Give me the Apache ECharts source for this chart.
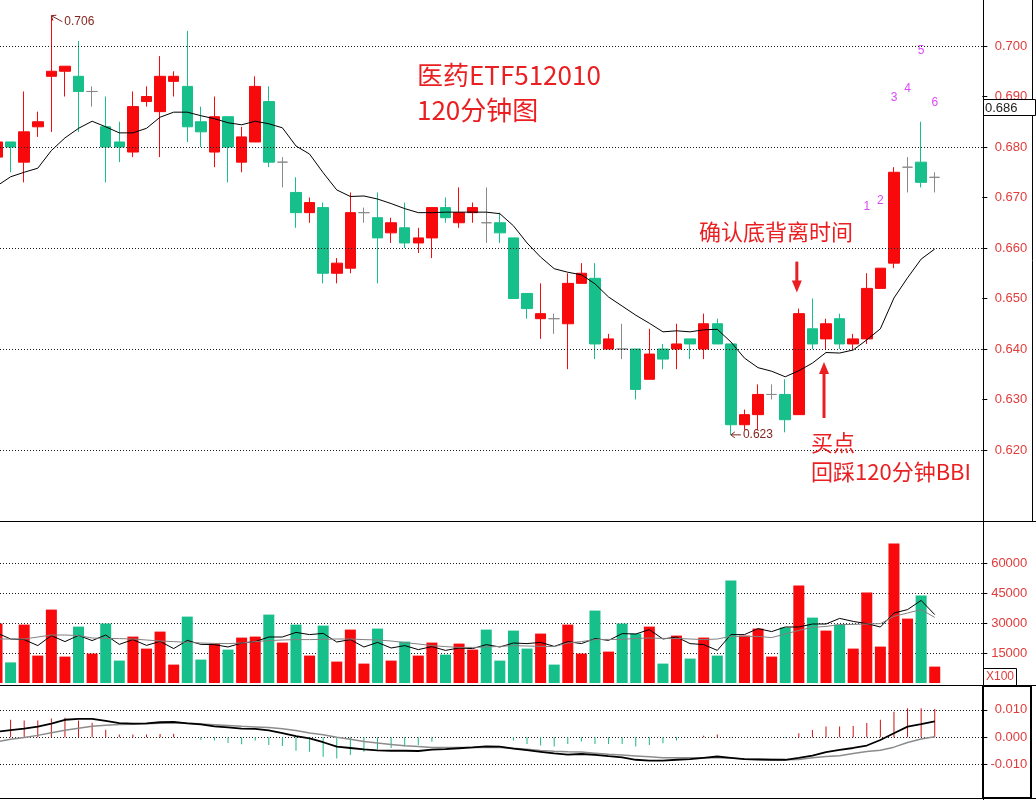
<!DOCTYPE html>
<html><head><meta charset="utf-8">
<script src="https://cdn.jsdelivr.net/npm/echarts@6/dist/echarts.min.js"></script>
<style>html,body{margin:0;padding:0;background:#fff}#c{width:1036px;height:800px}</style>
</head><body><div id="c"></div>
<script>
// ---- data (120-minute bars) ----
// [open, close, low, high]
const candles = [
 [0.678,0.681,0.677,0.682],[0.681,0.680,0.675,0.681],[0.677,0.683,0.673,0.691],[0.684,0.685,0.682,0.687],
 [0.694,0.695,0.683,0.706],[0.695,0.696,0.690,0.696],[0.694,0.691,0.683,0.701],[0.691,0.691,0.688,0.692],
 [0.684,0.680,0.673,0.690],[0.681,0.680,0.677,0.685],[0.679,0.688,0.678,0.691],[0.689,0.690,0.688,0.692],
 [0.687,0.694,0.678,0.698],[0.693,0.694,0.690,0.695],[0.692,0.684,0.681,0.703],[0.685,0.683,0.680,0.688],
 [0.679,0.686,0.676,0.690],[0.686,0.680,0.673,0.686],[0.677,0.682,0.675,0.684],[0.681,0.692,0.681,0.694],
 [0.689,0.677,0.676,0.692],[0.677,0.677,0.672,0.678],[0.671,0.667,0.664,0.674],[0.667,0.669,0.665,0.670],
 [0.668,0.655,0.653,0.669],[0.655,0.657,0.653,0.658],[0.656,0.667,0.655,0.671],[0.667,0.667,0.665,0.668],
 [0.666,0.662,0.653,0.671],[0.663,0.665,0.661,0.666],[0.664,0.661,0.660,0.669],[0.661,0.662,0.659,0.664],
 [0.662,0.668,0.658,0.668],[0.668,0.666,0.665,0.670],[0.665,0.667,0.664,0.672],[0.667,0.668,0.665,0.669],
 [0.665,0.665,0.661,0.672],[0.665,0.663,0.661,0.667],[0.662,0.650,0.650,0.662],[0.651,0.648,0.646,0.651],
 [0.646,0.647,0.642,0.653],[0.646,0.646,0.643,0.647],[0.645,0.653,0.636,0.655],[0.653,0.655,0.653,0.657],
 [0.654,0.641,0.638,0.657],[0.640,0.642,0.640,0.643],[0.640,0.640,0.638,0.645],[0.640,0.632,0.630,0.640],
 [0.634,0.639,0.634,0.644],[0.640,0.638,0.636,0.641],[0.640,0.641,0.636,0.645],[0.642,0.641,0.638,0.642],
 [0.640,0.645,0.638,0.647],[0.645,0.641,0.641,0.646],[0.641,0.625,0.623,0.641],[0.625,0.627,0.624,0.628],
 [0.627,0.631,0.624,0.633],[0.631,0.631,0.630,0.633],[0.631,0.626,0.6235,0.634],[0.627,0.647,0.627,0.648],
 [0.644,0.641,0.640,0.650],[0.642,0.645,0.640,0.646],[0.646,0.641,0.640,0.647],[0.641,0.642,0.640,0.643],
 [0.642,0.652,0.641,0.655],[0.652,0.656,0.652,0.656],[0.657,0.675,0.656,0.676],[0.676,0.676,0.671,0.678],
 [0.677,0.673,0.672,0.685],[0.674,0.674,0.671,0.675]
];
const bbi = [
 0.6723,0.6741,0.6750,0.6758,0.6793,0.6818,0.6837,0.6851,0.6840,0.6828,
 0.6828,0.6837,0.6859,0.6869,0.6869,0.6862,0.6856,0.6848,0.6844,0.6851,
 0.6846,0.6838,0.6802,0.6786,0.6749,0.6715,0.6702,0.6703,0.6697,0.6688,
 0.6678,0.6670,0.6670,0.6671,0.6671,0.6671,0.6671,0.6668,0.6644,0.6610,
 0.6582,0.6559,0.6552,0.6547,0.6529,0.6503,0.6485,0.6467,0.6451,0.6434,
 0.6436,0.6434,0.6438,0.6439,0.6414,0.6382,0.6363,0.6356,0.6345,0.6357,
 0.6372,0.6393,0.6392,0.6398,0.6418,0.6440,0.6501,0.6541,0.6578,0.6598
];
const volume = [
 29700,10300,29200,13700,36700,13200,28200,14700,29700,11200,
 23200,17200,25700,9200,33200,11700,19700,16700,22700,23200,
 34200,20200,29200,13700,28700,10700,26700,9700,27200,11200,
 20700,13700,20200,14200,19700,16700,26700,11200,26200,17200,
 24700,9200,29200,14700,36200,15700,29700,24700,28200,9700,
 23700,12200,22700,13700,51200,23700,27200,13200,27700,48700,
 32700,26200,29200,17200,45200,18200,69700,32200,43700,8200
];
const volMa5 = [
 25000,22000,21700,18700,23700,20700,23800,21200,24000,19300,
 21700,18800,20800,17200,21300,19300,19200,18000,20000,20700,
 23000,23000,25300,24200,24800,20500,21700,18000,20300,17500,
 18700,16700,18200,16300,17500,17200,19200,18000,20000,19700,
 20300,18300,20700,19700,22200,21300,24700,24500,26700,22000,
 23000,19700,19200,16300,24200,24200,27200,25700,28000,28000,
 29500,29500,32300,30800,29700,28000,35000,36700,41300,34200
];
const volMa10 = [
 22000,22000,22000,23000,24000,24000,23700,22500,22300,22200,
 22000,21500,21000,20700,20300,20000,19800,19700,20000,20700,
 21200,21500,21700,21700,21800,22000,22000,21700,21500,21000,
 20200,19500,18700,18200,17800,17800,18000,18300,18700,18500,
 18300,18200,20000,20700,21700,21800,21800,22300,22500,22300,
 22300,22000,21700,22000,23300,23300,23300,22700,24500,26300,
 27800,28300,29200,29300,29500,29700,33300,35000,36700,32800
];
const dif = [
 0.0020,0.0026,0.0032,0.0039,0.0050,0.0064,0.0067,0.0067,0.0060,0.0052,
 0.0050,0.0051,0.0055,0.0056,0.0051,0.0047,0.0040,0.0036,0.0032,0.0031,
 0.0025,0.0015,0.0004,-0.0004,-0.0018,-0.0034,-0.0039,-0.0044,-0.0048,-0.0049,
 -0.0049,-0.0050,-0.0045,-0.0043,-0.0040,-0.0037,-0.0033,-0.0034,-0.0041,-0.0047,
 -0.0053,-0.0059,-0.0063,-0.0061,-0.0064,-0.0069,-0.0073,-0.0082,-0.0085,-0.0085,
 -0.0082,-0.0080,-0.0075,-0.0070,-0.0075,-0.0080,-0.0081,-0.0082,-0.0082,-0.0075,
 -0.0067,-0.0054,-0.0046,-0.0039,-0.0030,-0.0010,0.0015,0.0039,0.0048,0.0058
];
const dea = [
 -0.0017,-0.0007,-0.0001,0.0007,0.0017,0.0026,0.0033,0.0040,0.0044,0.0047,
 0.0048,0.0049,0.0051,0.0052,0.0051,0.0049,0.0046,0.0043,0.0040,0.0038,
 0.0036,0.0031,0.0025,0.0016,0.0009,0.0000,-0.0007,-0.0015,-0.0021,-0.0026,
 -0.0031,-0.0034,-0.0037,-0.0037,-0.0037,-0.0037,-0.0037,-0.0037,-0.0040,-0.0044,
 -0.0048,-0.0051,-0.0053,-0.0054,-0.0058,-0.0062,-0.0065,-0.0068,-0.0071,-0.0075,
 -0.0075,-0.0075,-0.0075,-0.0075,-0.0076,-0.0079,-0.0080,-0.0081,-0.0082,-0.0081,
 -0.0075,-0.0070,-0.0067,-0.0059,-0.0052,-0.0047,-0.0036,-0.0019,-0.0006,0.0002
];
const macdHist = [
 0.0060,0.0064,0.0061,0.0061,0.0069,0.0071,0.0061,0.0053,0.0028,0.0010,
 0.0010,0.0010,0.0012,0.0013,0.0000,-0.0009,-0.0012,-0.0021,-0.0025,-0.0012,
 -0.0028,-0.0032,-0.0049,-0.0053,-0.0071,-0.0077,-0.0065,-0.0053,-0.0044,-0.0039,
 -0.0034,-0.0028,-0.0016,0.0000,0.0000,0.0000,0.0000,0.0000,-0.0012,-0.0024,
 -0.0030,-0.0034,-0.0024,-0.0015,-0.0024,-0.0024,-0.0024,-0.0034,-0.0028,-0.0022,
 -0.0012,0.0000,0.0006,0.0010,-0.0002,-0.0002,-0.0002,-0.0002,-0.0003,0.0015,
 0.0027,0.0039,0.0039,0.0041,0.0052,0.0064,0.0093,0.0106,0.0106,0.0103
];
// TD-style count digits above the last bars
const tdIndex = [64, 65, 66, 67, 68, 69];
const tdPrice = [0.6681, 0.6693, 0.6897, 0.6915, 0.6990, 0.6887];
const tdLabels = ['1', '2', '3', '4', '5', '6'];
// axis ticks
const priceTicks = [0.62,0.63,0.64,0.65,0.66,0.67,0.68,0.69,0.70];
const priceGridLines = [0.62,0.64,0.66,0.68,0.70];
const volTicks = [15000,30000,45000,60000];
const macdTicks = [-0.01,0,0.01];
// texts
const titleLines = ['医药ETF512010', '120分钟图'];
const noteTop = '确认底背离时间';
const noteBuy = ['买点', '回踩120分钟BBI'];
const cursorPrice = '0.686';
const volUnit = 'X100';

// ---- styles / layout ----
// visible bar-index range: first bar half cut off on the left, empty space at the right
const X_MIN = 0.2208, X_MAX = 72.50;
const RED = '#f7090c', GREEN = '#17bf8a', DOJI = '#8a8a8a';
const AX_RED = '#e23b3b', NOTE_RED = '#ea1f22', TD_COLOR = '#d21cf5', HL_COLOR = '#84261f';
const CJK = '"Noto Sans CJK SC", "Noto Sans", sans-serif';
const NUMF = '"Liberation Sans", Arial, sans-serif';

function barColor(i) {
  const o = candles[i][0], c = candles[i][1];
  if (c > o) return RED;
  if (c < o) return GREEN;
  if (i > 0 && c < candles[i - 1][1]) return GREEN;
  return RED;
}
const idx = arr => arr.map((v, i) => [i, v]);

const RIGHT = 53.7;
const dotted = {color: '#1a1a1a', type: [1, 2], width: 1};
const axisLabelBase = {color: AX_RED, fontSize: 13, fontFamily: NUMF, align: 'right', margin: 45};
const tickBase = {show: true, length: 5, lineStyle: {color: '#000', width: 1}};
const gridBase = {left: 0, right: RIGHT, containLabel: false, outerBoundsMode: 'none'};

const chart = echarts.init(document.getElementById('c'), null, {renderer: 'canvas'});
const option = {
  animation: false,
  backgroundColor: '#ffffff',
  grid: [
    Object.assign({top: 0, bottom: 279}, gridBase),
    Object.assign({top: 533, bottom: 117}, gridBase),
    Object.assign({top: 682.5, bottom: 7.9}, gridBase)
  ],
  xAxis: [0, 1, 2].map(g => ({type: 'value', gridIndex: g, min: X_MIN, max: X_MAX, show: false})),
  yAxis: [
    {type: 'value', gridIndex: 0, position: 'right', min: 0.60594, max: 0.70911,
     axisLine: {show: false},
     axisTick: Object.assign({customValues: priceTicks}, tickBase),
     axisLabel: Object.assign({customValues: priceTicks, formatter: v => v.toFixed(3)}, axisLabelBase),
     splitLine: {show: false}},
    {type: 'value', gridIndex: 1, position: 'right', min: 0, max: 75000,
     axisLine: {show: false},
     axisTick: Object.assign({customValues: volTicks}, tickBase),
     axisLabel: Object.assign({customValues: volTicks, formatter: v => String(v)}, axisLabelBase),
     splitLine: {show: true, lineStyle: dotted}},
    {type: 'value', gridIndex: 2, position: 'right', min: -0.02, max: 0.02,
     axisLine: {show: false},
     axisTick: Object.assign({customValues: macdTicks}, tickBase),
     axisLabel: Object.assign({customValues: macdTicks, formatter: v => v.toFixed(3)}, axisLabelBase),
     splitLine: {show: true, lineStyle: dotted}}
  ],
  series: [
    {type: 'candlestick', xAxisIndex: 0, yAxisIndex: 0, barWidth: 11, silent: true,
     data: candles.map((c, i) => [i, c[0], c[1], c[2], c[3]]),
     encode: {x: 0, y: [1, 2, 3, 4]},
     itemStyle: {color: RED, color0: GREEN, borderColor: RED, borderColor0: GREEN, borderColorDoji: DOJI, borderWidth: 1}},
    {type: 'line', xAxisIndex: 0, yAxisIndex: 0, data: idx(bbi), symbol: 'none', silent: true,
     lineStyle: {color: '#000', width: 1},
     markLine: {silent: true, symbol: ['none', 'none'], label: {show: false},
       lineStyle: dotted, emphasis: {disabled: true},
       data: priceGridLines.map(v => ({yAxis: v}))}},
    {type: 'scatter', xAxisIndex: 0, yAxisIndex: 0, symbolSize: 1, silent: true,
     itemStyle: {color: 'rgba(0,0,0,0)'},
     data: tdIndex.map((x, k) => [x, tdPrice[k]]),
     label: {show: true, position: 'inside', color: TD_COLOR, fontSize: 12, fontFamily: NUMF,
       textBorderWidth: 0, formatter: p => tdLabels[p.dataIndex]}},
    {type: 'bar', xAxisIndex: 1, yAxisIndex: 1, data: idx(volume), barWidth: 11, silent: true,
     itemStyle: {color: p => barColor(p.dataIndex)}},
    {type: 'line', xAxisIndex: 1, yAxisIndex: 1, data: idx(volMa5), symbol: 'none', silent: true,
     lineStyle: {color: '#000', width: 1}},
    {type: 'line', xAxisIndex: 1, yAxisIndex: 1, data: idx(volMa10), symbol: 'none', silent: true,
     lineStyle: {color: '#808080', width: 1}},
    {type: 'bar', xAxisIndex: 2, yAxisIndex: 2, data: idx(macdHist), barWidth: 1, silent: true,
     itemStyle: {color: p => (p.value[1] >= 0 ? '#cc1414' : '#1bb987')}},
    {type: 'line', xAxisIndex: 2, yAxisIndex: 2, data: idx(dea), symbol: 'none', silent: true,
     lineStyle: {color: '#8c8c8c', width: 1.5}},
    {type: 'line', xAxisIndex: 2, yAxisIndex: 2, data: idx(dif), symbol: 'none', silent: true,
     lineStyle: {color: '#000', width: 1.8}}
  ]
};
chart.setOption(option);

// ---- annotations anchored to data ----
const px = (i, v) => chart.convertToPixel({xAxisIndex: 0, yAxisIndex: 0}, [i, v]);
let hiIdx = 0, loIdx = 0;
candles.forEach((c, i) => { if (c[3] > candles[hiIdx][3]) hiIdx = i; if (c[2] < candles[loIdx][2]) loIdx = i; });
const hiP = px(hiIdx, candles[hiIdx][3]);
const loP = px(loIdx, candles[loIdx][2]);
const downP = px(59, candles[59][3]);
const upP = px(61, candles[61][2]);

function txt(x, y, text, font, fill, align, z) {
  return {type: 'text', x: x, y: y, z: z || 60,
    style: {text: text, font: font, fill: fill, textAlign: align || 'left', align: align || 'left',
            textVerticalAlign: 'middle', verticalAlign: 'middle'}};
}
function seg(x1, y1, x2, y2, color, w, z) {
  return {type: 'line', z: z || 60, shape: {x1: x1, y1: y1, x2: x2, y2: y2}, style: {stroke: color, lineWidth: w || 1}};
}
const g = [];
// frame
g.push(seg(0, 521.5, 1036, 521.5, '#000'));
g.push(seg(0, 685.5, 1036, 685.5, '#000'));
g.push(seg(0, 798.5, 1036, 798.5, '#000'));
g.push(seg(983.5, 0, 983.5, 800, '#000'));
g.push(seg(1032.5, 0, 1032.5, 521, '#000'));
g.push({type: 'rect', z: 70, shape: {x: 983, y: 686, width: 48, height: 112}, style: {fill: null, stroke: '#000', lineWidth: 2}});
// cursor price box
g.push({type: 'rect', z: 80, shape: {x: 983.5, y: 99.5, width: 52, height: 16}, style: {fill: '#fff', stroke: '#000', lineWidth: 1}});
g.push(txt(985, 108, cursorPrice, '13px ' + NUMF, '#222', 'left', 81));
// X100 box
g.push({type: 'rect', z: 80, shape: {x: 983.5, y: 668.5, width: 33, height: 17}, style: {fill: '#fff', stroke: '#000', lineWidth: 1}});
g.push(txt(986, 677, volUnit, '12px ' + NUMF, AX_RED, 'left', 81));
// title and notes
g.push(txt(417, 75, titleLines[0], '26px ' + CJK, NOTE_RED));
g.push(txt(417, 110, titleLines[1], '26px ' + CJK, NOTE_RED));
g.push(txt(699, 232, noteTop, '22px ' + CJK, NOTE_RED));
g.push(txt(811, 443, noteBuy[0], '22px ' + CJK, NOTE_RED));
g.push(txt(811, 472, noteBuy[1], '22px ' + CJK, NOTE_RED));
// high label
g.push(seg(hiP[0], hiP[1], hiP[0] + 11, hiP[1] + 6, HL_COLOR));
g.push(seg(hiP[0], hiP[1], hiP[0] + 5, hiP[1] - 0.5, HL_COLOR));
g.push(seg(hiP[0], hiP[1], hiP[0] + 1.5, hiP[1] + 5, HL_COLOR));
g.push(txt(hiP[0] + 13, hiP[1] + 6, candles[hiIdx][3].toFixed(3), '12px ' + NUMF, HL_COLOR));
// low label
g.push(seg(loP[0], loP[1], loP[0] + 10, loP[1], HL_COLOR));
g.push(seg(loP[0], loP[1], loP[0] + 4, loP[1] - 3, HL_COLOR));
g.push(seg(loP[0], loP[1], loP[0] + 4, loP[1] + 3, HL_COLOR));
g.push(txt(loP[0] + 12, loP[1], candles[loIdx][2].toFixed(3), '12px ' + NUMF, HL_COLOR));
// down arrow (confirm divergence)
{
  const x = downP[0] - 2, tip = downP[1] - 16;
  g.push(seg(x, tip - 31, x, tip - 9, NOTE_RED, 3));
  g.push({type: 'polygon', z: 60, shape: {points: [[x - 5, tip - 12], [x + 5, tip - 12], [x, tip]]}, style: {fill: NOTE_RED}});
}
// up arrow (buy point)
{
  const x = upP[0] - 2, tip = upP[1] + 13;
  g.push(seg(x, tip + 56, x, tip + 9, NOTE_RED, 3));
  g.push({type: 'polygon', z: 60, shape: {points: [[x - 5, tip + 12], [x + 5, tip + 12], [x, tip]]}, style: {fill: NOTE_RED}});
}
chart.setOption({graphic: {elements: g}});
</script>
</body></html>
